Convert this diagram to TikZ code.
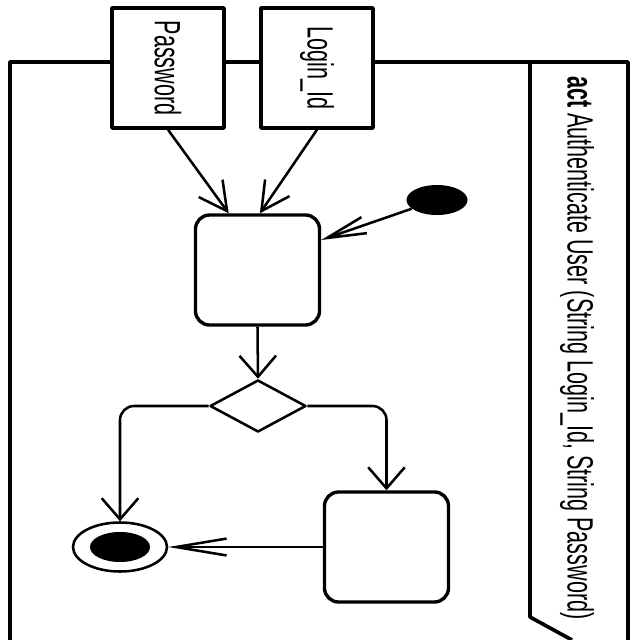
\documentclass[tikz,border=0pt]{standalone}
\usepackage{fontspec}
\setmainfont{Liberation Sans}
\usepackage{graphicx}
\usetikzlibrary{shapes.geometric,arrows.meta}
\newcommand{\sqz}[1]{\scalebox{0.59}[1]{\fontsize{26}{30}\selectfont #1}}

\begin{document}
\begin{tikzpicture}[x=0.025cm,y=-0.025cm,line join=round,
 objbox/.style={draw,fill=white,line width=2.4pt,minimum width=2.8cm,minimum height=3cm,inner sep=0pt},
 actbox/.style={draw,rounded corners=10pt,line width=2.4pt,minimum width=3.1cm,minimum height=2.75cm},
 flow/.style={line width=1.8pt},
 arrv/.style={flow,-{Straight Barb[length=15pt,width=26pt]}},
 arrh/.style={flow,-{Straight Barb[length=36pt,width=12pt]}},
 arri/.style={flow,-{Straight Barb[length=28pt,width=12pt]}},
 arrd/.style={flow,-{Straight Barb[length=20pt,width=21pt]}}]
\useasboundingbox (0,0) rectangle (640,640);
\draw[line width=2.6pt] (10,640)--(10,62)--(628,62)--(628,640); \draw[line width=2.6pt] (530,62)--(530,617)--(572,640);
\node[anchor=north,inner sep=0pt] (ttl) at (577,76) {\rotatebox{-90}{\sqz{\textbf{act} Authenticate User (String Login\_Id, String Password)}}};
\node[objbox] (pwd) at (168,68) {\rotatebox{-90}{\sqz{Password}}}; \node[objbox] (lid) at (317,68) {\rotatebox{-90}{\sqz{Login\_Id}}};
\node[actbox] (chk) at (257.5,270) {}; \node[ellipse,fill,inner sep=0pt,minimum width=1.525cm,minimum height=0.75cm] (init) at (437,200) {};
\node[diamond,draw,line width=1.8pt,aspect=1.85,minimum width=2.4cm,minimum height=1.3cm,inner sep=0pt] (dec) at (258,406) {};
\node[actbox] (fail) at (386.5,547) {};
\node[ellipse,draw,line width=1.8pt,inner sep=0pt,minimum width=2.35cm,minimum height=1.225cm] (fin) at (120,547) {}; \node[ellipse,fill,inner sep=0pt,minimum width=1.5cm,minimum height=0.75cm] (fin core) at (fin) {};
\draw[arrd] (pwd.south) -- ([xshift=-0.72cm]chk.north); \draw[arrd] (lid.south) -- ([xshift=0.06cm]chk.north);
\draw[arri] (init) -- ([yshift=0.75cm]chk.east); \draw[arrv] (chk.south) -- (dec.north);
\draw[arrv,rounded corners=10pt] (dec.west) -| (fin.north); \draw[arrv,rounded corners=10pt] (dec.east) -| (fail.north);
\draw[arrh] (fail.west) -- (fin.east);
\end{tikzpicture}
\end{document}
